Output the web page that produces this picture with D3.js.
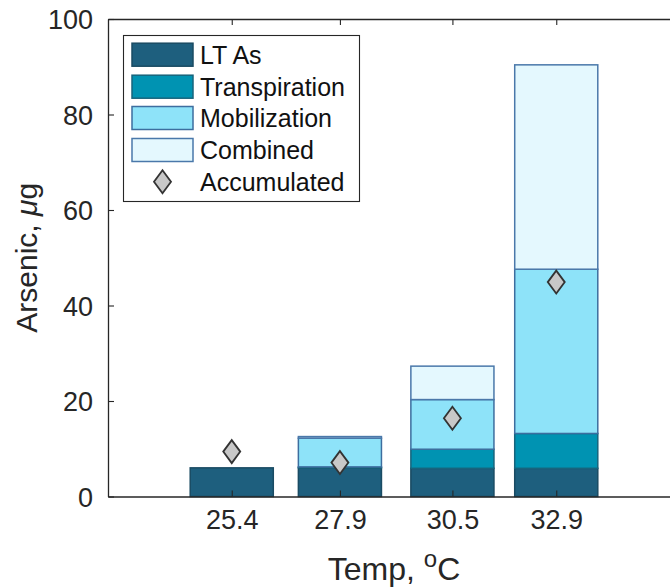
<!DOCTYPE html>
<html>
<head>
<meta charset="utf-8">
<script src="https://cdn.jsdelivr.net/npm/d3@7"></script>
<style>
  html, body { margin: 0; padding: 0; background: #fff; }
  svg { display: block; font-family: "Liberation Sans", Arial, Helvetica, sans-serif; }
</style>
</head>
<body>
<svg id="chart" width="670" height="588"></svg>
<script>
// Arsenic budget per growth temperature (stacked components, µg)
const temps = [25.4, 27.9, 30.5, 32.9];
const ltAs = [6.0, 6.0, 5.9, 5.9];
const transpiration = [0, 0.2, 4.0, 7.3];
const mobilization = [0, 6.0, 10.4, 34.4];
const combined = [0, 0.35, 7.0, 42.8];
const accumulated = [9.4, 7.1, 16.4, 44.9];
const yTicks = [0, 20, 40, 60, 80, 100];

const seriesNames = ["LT As", "Transpiration", "Mobilization", "Combined"];
const seriesValues = [ltAs, transpiration, mobilization, combined];
const fills = ["#1e5f7e", "#0093b2", "#8ee3f9", "#e4f8fe"];
const edges = ["#1a4b63", "#17647c", "#3d6e9f", "#4a78aa"];

const ink = "#262626";
const svg = d3.select("#chart");

const x = d3.scaleLinear().domain([22.54, 35.76]).range([108, 680]);
const y = d3.scaleLinear().domain([0, 100]).range([496.5, 19]);
const barW = x(temps[0] + 0.8 * 2.4) - x(temps[0]);

// stacked rows built from the series arrays
const rows = temps.map((t, i) => {
  const r = { temp: t };
  seriesNames.forEach((n, k) => r[n] = seriesValues[k][i]);
  return r;
});
const stacked = d3.stack().keys(seriesNames)(rows);

const plot = svg.append("g");
stacked.forEach((layer, k) => {
  plot.append("g").selectAll("rect").data(layer).join("rect")
    .attr("x", d => x(d.data.temp) - barW / 2)
    .attr("width", barW)
    .attr("y", d => y(d[1]))
    .attr("height", d => y(d[0]) - y(d[1]))
    .attr("fill", fills[k])
    .attr("stroke", edges[k])
    .attr("stroke-width", 1.5);
});

// accumulated markers
const diamond = (cx, cy) => `M${cx},${cy - 11.5}L${cx + 8.5},${cy}L${cx},${cy + 11.5}L${cx - 8.5},${cy}Z`;
plot.append("g").selectAll("path").data(temps).join("path")
  .attr("d", (t, i) => diamond(x(t), y(accumulated[i])))
  .attr("fill", "#c8c8c8")
  .attr("stroke", "#333")
  .attr("stroke-width", 1.8);

// axes (ticks pointing inward)
const xAxisB = d3.axisBottom(x).tickValues(temps).tickFormat(d3.format(".1f")).tickSizeInner(-6).tickSizeOuter(0).tickPadding(13);
const xAxisT = d3.axisTop(x).tickValues(temps).tickFormat("").tickSizeInner(-6).tickSizeOuter(0);
const yAxisL = d3.axisLeft(y).tickValues(yTicks).tickSizeInner(-6).tickSizeOuter(0).tickPadding(15);

function styleAxis(g) {
  g.select(".domain").attr("stroke", ink).attr("stroke-width", 1.3);
  g.selectAll(".tick line").attr("stroke", ink).attr("stroke-width", 1.1);
  g.selectAll(".tick text").attr("fill", ink).attr("font-size", 27)
    .attr("font-family", "'Liberation Sans', Arial, sans-serif");
}
svg.append("g").attr("transform", `translate(0,${y(0)})`).call(xAxisB).call(styleAxis)
  .selectAll(".tick text").attr("dy", "0.71em");
svg.append("g").attr("transform", `translate(0,${y(100)})`).call(xAxisT).call(styleAxis);
svg.append("g").attr("transform", `translate(${x.range()[0]},0)`).call(yAxisL).call(styleAxis)
  .selectAll(".tick text").attr("dy", "0.36em");

// axis labels
const xl = svg.append("text")
  .attr("x", (x.range()[0] + x.range()[1]) / 2).attr("y", 580)
  .attr("text-anchor", "middle").attr("font-size", 32).attr("fill", ink);
xl.append("tspan").text("Temp, ");
xl.append("tspan").attr("dy", -13).attr("font-size", 24).text("o");
xl.append("tspan").attr("dy", 13).text("C");

const yl = svg.append("text")
  .attr("transform", `translate(37,${(y(0) + y(100)) / 2}) rotate(-90)`)
  .attr("text-anchor", "middle").attr("font-size", 30).attr("fill", ink);
yl.append("tspan").text("Arsenic, ");
yl.append("tspan").attr("font-style", "italic").text("\u03bc");
yl.append("tspan").text("g");

// legend
const lg = svg.append("g");
lg.append("rect").attr("x", 123.5).attr("y", 35.5).attr("width", 236).attr("height", 166)
  .attr("fill", "#fff").attr("stroke", ink).attr("stroke-width", 1.1);
const rowY = [54.7, 86.7, 118, 150, 181.7];
seriesNames.forEach((n, k) => {
  lg.append("rect").attr("x", 132).attr("y", rowY[k] - 11.5).attr("width", 61).attr("height", 23)
    .attr("fill", fills[k]).attr("stroke", edges[k]).attr("stroke-width", 1.5);
  lg.append("text").attr("x", 200).attr("y", rowY[k]).attr("dy", "0.36em")
    .attr("font-size", 25).attr("fill", "#111").text(n);
});
lg.append("path").attr("d", diamond(162.5, rowY[4]))
  .attr("fill", "#c8c8c8").attr("stroke", "#333").attr("stroke-width", 1.8);
lg.append("text").attr("x", 200).attr("y", rowY[4]).attr("dy", "0.36em")
  .attr("font-size", 25).attr("fill", "#111").text("Accumulated");
</script>
</body>
</html>
